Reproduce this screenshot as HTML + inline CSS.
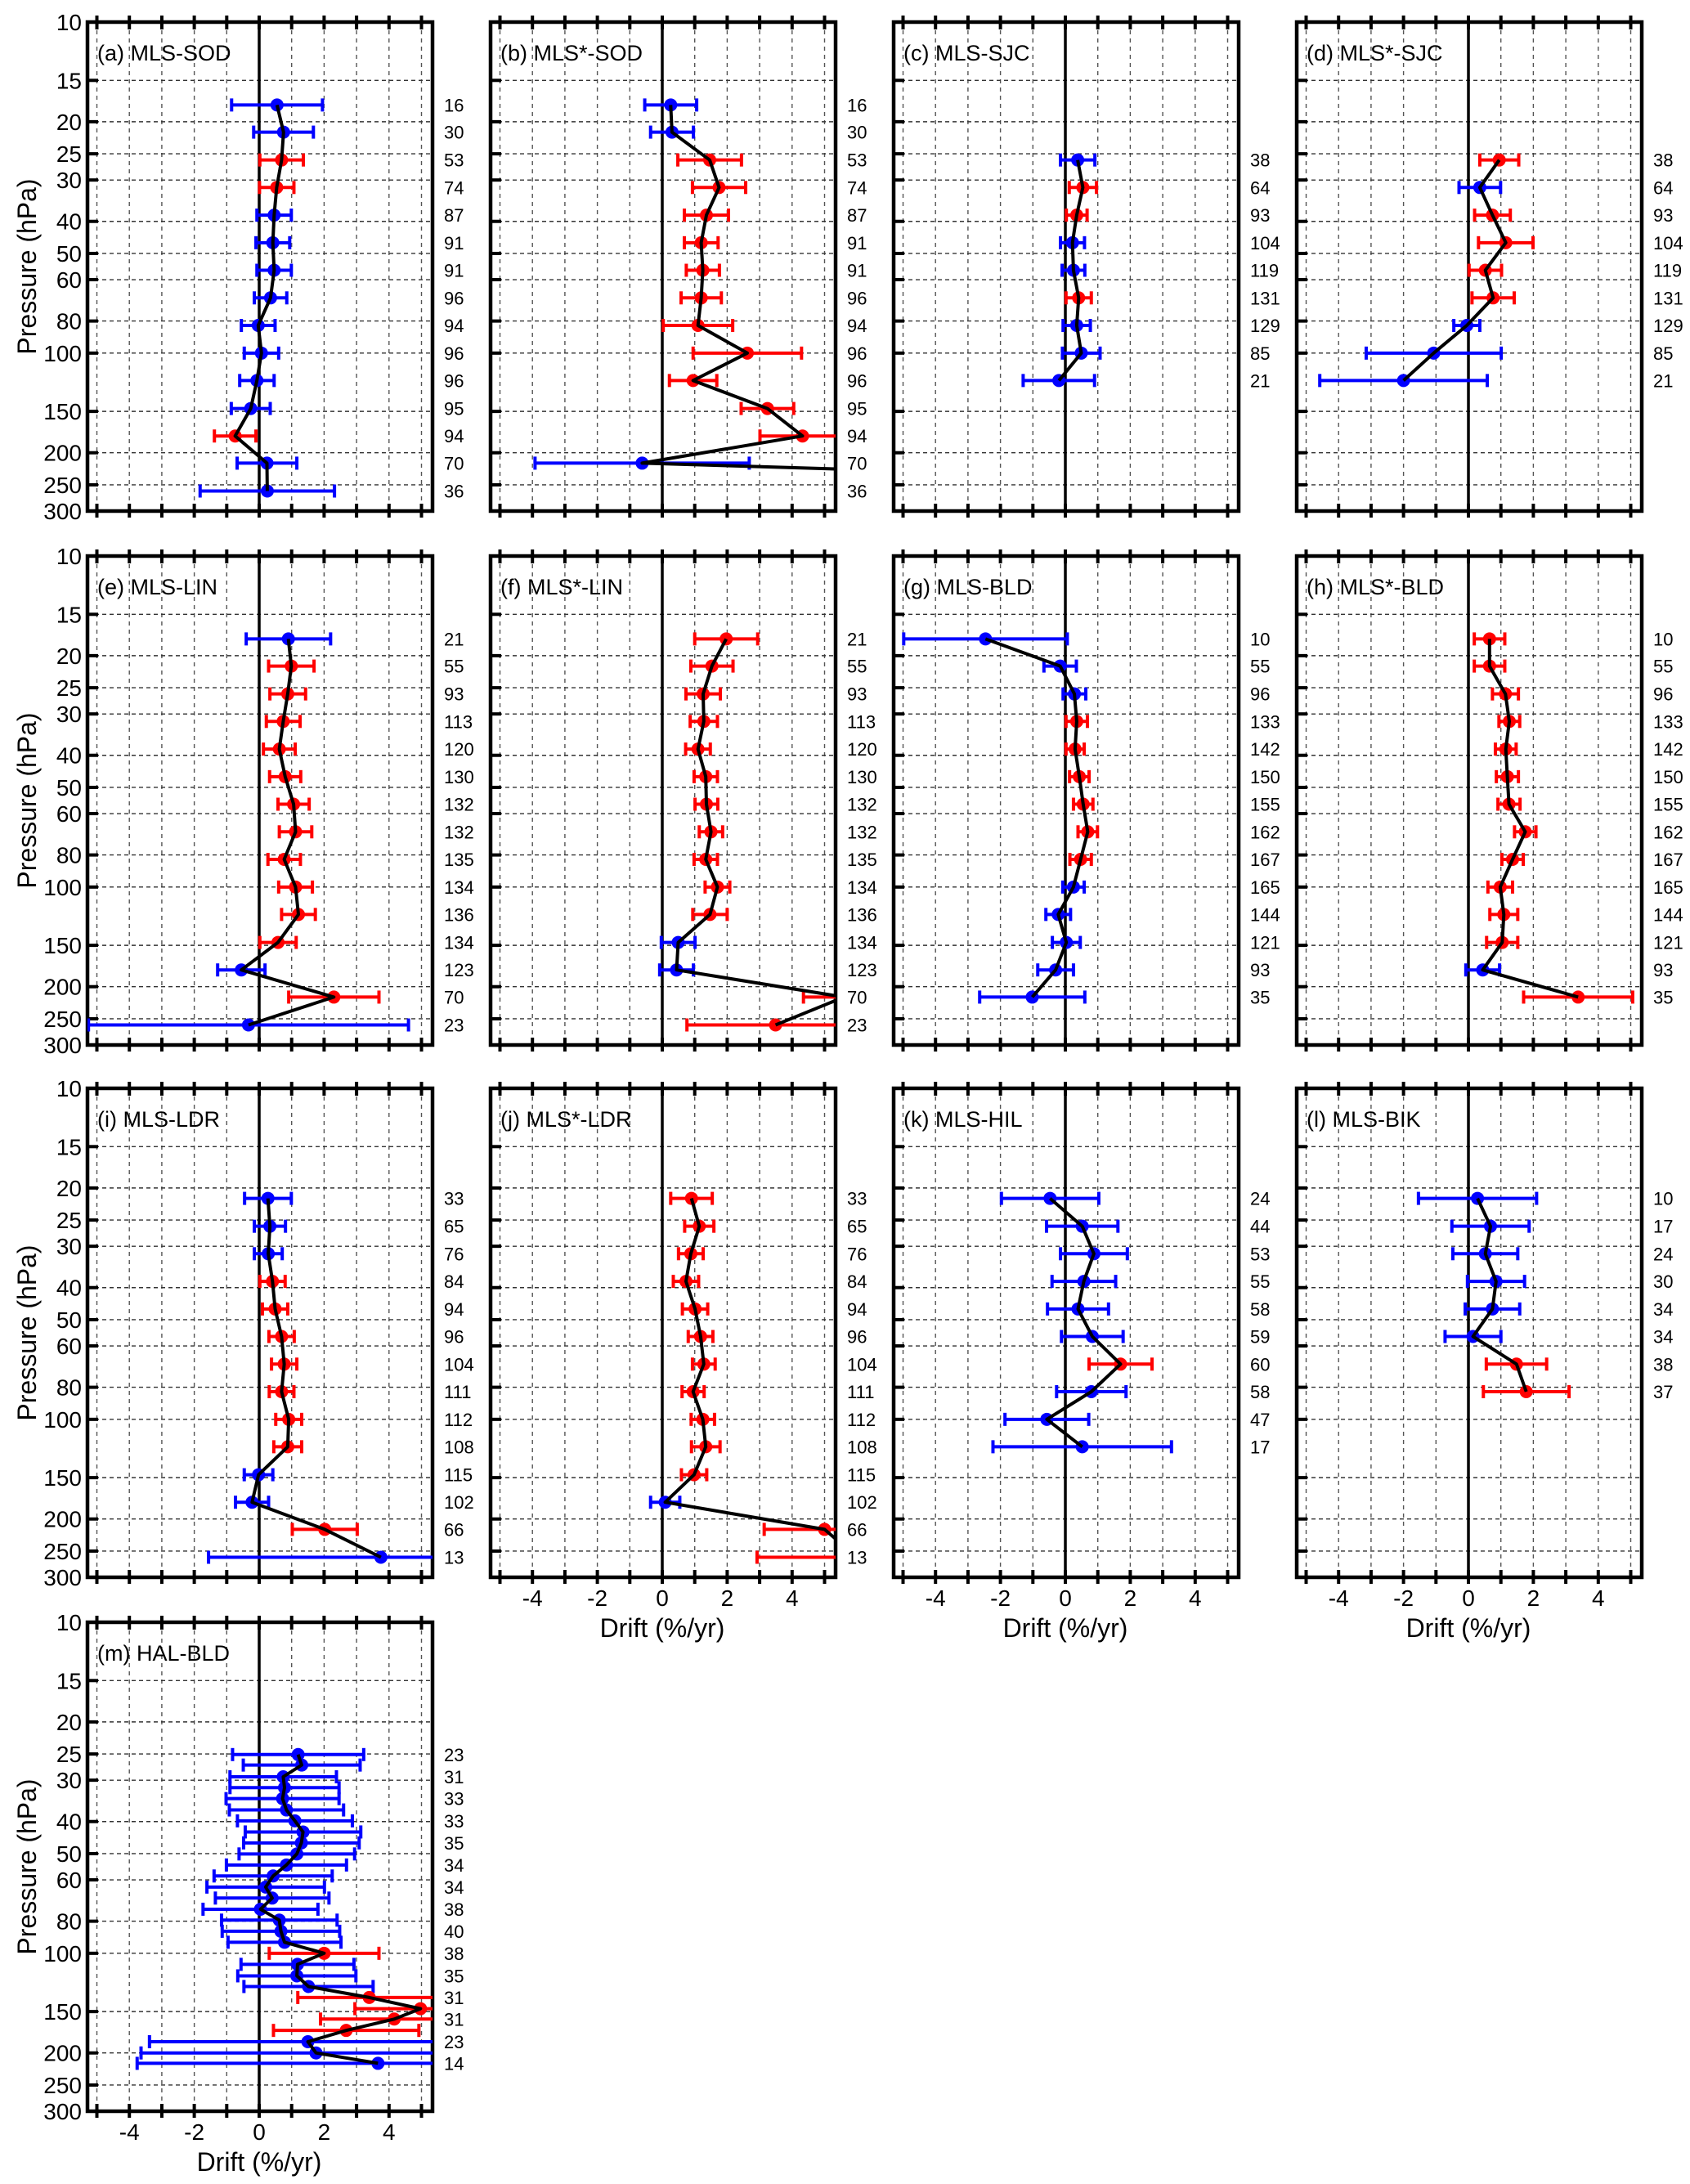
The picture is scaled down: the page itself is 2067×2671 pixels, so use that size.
<!DOCTYPE html>
<html>
<head>
<meta charset="utf-8">
<style>
  html,body{margin:0;padding:0;background:#fff;}
  svg{display:block;font-family:"Liberation Sans",Arial,sans-serif;}
</style>
</head>
<body>
<svg id="fig" xmlns="http://www.w3.org/2000/svg" width="2067" height="2671" viewBox="0 0 2067 2671">
  <rect x="0" y="0" width="2067" height="2671" fill="#fff"/>
</svg>
<script>
// ---- pressure levels (categories) ----
const mlsLevels = [17.8,21.5,26.1,31.6,38.3,46.4,56.2,68.1,82.5,100,121,147,178,215,261];
const halLevels = [25.1,27.0,29.3,31.6,34.1,36.9,39.8,43.0,46.4,50.1,54.1,58.4,63.1,68.1,73.6,79.4,85.8,92.6,100,108,117,126,136,147,158,171,185,200,215];
const yTickValues = [10,15,20,25,30,40,50,60,80,100,150,200,250,300];
const yTickLabels = ["10","15","20","25","30","40","50","60","80","100","150","200","250","300"];
const xTickValues = [-4,-2,0,2,4];
const xTickLabels = ["-4","-2","0","2","4"];

// ---- panel data ----
const aVals = [0.55,0.75,0.69,0.54,0.46,0.42,0.46,0.35,-0.03,0.07,-0.07,-0.26,-0.74,0.24,0.25];
const aErrs = [1.4,0.92,0.67,0.53,0.53,0.52,0.53,0.5,0.52,0.53,0.53,0.6,0.64,0.92,2.07];
const aCounts = [16,30,53,74,87,91,91,96,94,96,96,95,94,70,36];

const bVals = [0.26,0.3,1.46,1.75,1.36,1.2,1.25,1.2,1.1,2.62,0.95,3.24,4.32,-0.62,28];
const bErrs = [0.8,0.66,0.98,0.82,0.68,0.52,0.51,0.62,1.07,1.67,0.73,0.81,1.31,3.3,5];
const bCounts = [16,30,53,74,87,91,91,96,94,96,96,95,94,70,36];

const cVals = [0.38,0.54,0.35,0.22,0.25,0.41,0.35,0.49,-0.2];
const cErrs = [0.53,0.42,0.32,0.37,0.35,0.39,0.42,0.58,1.1];
const cCounts = [38,64,93,104,119,131,129,85,21];

const dVals = [0.95,0.35,0.74,1.15,0.52,0.76,-0.05,-1.07,-2.0];
const dErrs = [0.6,0.64,0.55,0.84,0.5,0.65,0.4,2.08,2.58];
const dCounts = [38,64,93,104,119,131,129,85,21];

const eVals = [0.9,0.99,0.88,0.74,0.62,0.8,1.06,1.12,0.77,1.12,1.21,0.58,-0.55,2.3,-0.33];
const eErrs = [1.3,0.7,0.55,0.52,0.49,0.48,0.48,0.5,0.5,0.52,0.52,0.56,0.73,1.39,4.93];
const eCounts = [21,55,93,113,120,130,132,132,135,134,136,134,123,70,23];

const fVals = [1.97,1.53,1.26,1.28,1.1,1.34,1.36,1.5,1.34,1.7,1.47,0.49,0.44,5.6,3.49];
const fErrs = [0.97,0.65,0.53,0.42,0.38,0.36,0.35,0.36,0.36,0.38,0.53,0.52,0.52,1.25,2.73];
const fCounts = [21,55,93,113,120,130,132,132,135,134,136,134,123,70,23];

const gVals = [-2.46,-0.16,0.28,0.35,0.3,0.43,0.55,0.69,0.47,0.25,-0.22,0.03,-0.3,-1.02];
const gErrs = [2.52,0.5,0.35,0.33,0.28,0.3,0.3,0.3,0.33,0.33,0.38,0.43,0.55,1.62];
const gCounts = [10,55,96,133,142,150,155,162,167,165,144,121,93,35];

const hVals = [0.65,0.65,1.14,1.26,1.15,1.2,1.25,1.75,1.36,0.98,1.09,1.04,0.44,3.38];
const hErrs = [0.47,0.47,0.4,0.32,0.32,0.34,0.34,0.33,0.33,0.38,0.43,0.48,0.52,1.68];
const hCounts = [10,55,96,133,142,150,155,162,167,165,144,121,93,35];

const iVals = [0.27,0.33,0.28,0.41,0.49,0.69,0.77,0.69,0.91,0.88,-0.02,-0.22,2.02,3.75];
const iErrs = [0.72,0.48,0.43,0.39,0.39,0.39,0.39,0.38,0.4,0.43,0.44,0.51,1.0,5.31];
const iCounts = [33,65,76,84,94,96,104,111,112,108,115,102,66,13];

const jVals = [0.9,1.14,0.88,0.73,1.01,1.18,1.28,0.95,1.25,1.34,0.98,0.09,5.0,6.0];
const jErrs = [0.64,0.45,0.38,0.39,0.39,0.38,0.35,0.34,0.36,0.44,0.39,0.45,1.86,3.08];
const jCounts = [33,65,76,84,94,96,104,111,112,108,115,102,66,13];

const kVals = [-0.47,0.52,0.88,0.57,0.39,0.83,1.7,0.8,-0.57,0.52];
const kErrs = [1.5,1.1,1.03,0.98,0.94,0.95,0.97,1.07,1.29,2.75];
const kCounts = [24,44,53,55,58,59,60,58,47,17];

const lVals = [0.28,0.68,0.52,0.85,0.74,0.14,1.48,1.78];
const lErrs = [1.82,1.19,1.0,0.88,0.84,0.86,0.93,1.32];
const lCounts = [10,17,24,30,34,34,38,37];

const mVals = [1.2,1.31,0.74,0.78,0.72,0.84,1.1,1.35,1.3,1.16,0.84,0.43,0.2,0.4,0.04,0.62,0.67,0.78,2.0,1.18,1.16,1.52,3.39,4.97,4.16,2.68,1.5,1.75,3.66];
const mErrs = [2.02,1.8,1.64,1.68,1.74,1.76,1.77,1.78,1.78,1.78,1.85,1.82,1.81,1.75,1.77,1.78,1.81,1.74,1.69,1.74,1.82,1.99,2.2,2.02,2.27,2.24,4.88,5.39,7.42];
const mCounts = [23,31,33,33,35,34,34,38,40,38,35,31,31,23,14];

const panelTitles = ["(a) MLS-SOD","(b) MLS*-SOD","(c) MLS-SJC","(d) MLS*-SJC","(e) MLS-LIN","(f) MLS*-LIN","(g) MLS-BLD","(h) MLS*-BLD","(i) MLS-LDR","(j) MLS*-LDR","(k) MLS-HIL","(l) MLS-BIK","(m) HAL-BLD"];

// ---- layout ----
const COLS=[107,600,1093,1586], ROWS=[27,680,1331,1984], PW=422, PH=598;
const XMIN=-5.29, XMAX=5.34, PTOP=10, PBOT=300;
const NS="http://www.w3.org/2000/svg";
const svg=document.getElementById('fig');

const panels=[
 {key:'a',col:0,row:0,levels:mlsLevels,start:0,vals:aVals,errs:aErrs,counts:aCounts,step:1,xl:false},
 {key:'b',col:1,row:0,levels:mlsLevels,start:0,vals:bVals,errs:bErrs,counts:bCounts,step:1,xl:false},
 {key:'c',col:2,row:0,levels:mlsLevels,start:2,vals:cVals,errs:cErrs,counts:cCounts,step:1,xl:false},
 {key:'d',col:3,row:0,levels:mlsLevels,start:2,vals:dVals,errs:dErrs,counts:dCounts,step:1,xl:false},
 {key:'e',col:0,row:1,levels:mlsLevels,start:0,vals:eVals,errs:eErrs,counts:eCounts,step:1,xl:false},
 {key:'f',col:1,row:1,levels:mlsLevels,start:0,vals:fVals,errs:fErrs,counts:fCounts,step:1,xl:false},
 {key:'g',col:2,row:1,levels:mlsLevels,start:0,vals:gVals,errs:gErrs,counts:gCounts,step:1,xl:false},
 {key:'h',col:3,row:1,levels:mlsLevels,start:0,vals:hVals,errs:hErrs,counts:hCounts,step:1,xl:false},
 {key:'i',col:0,row:2,levels:mlsLevels,start:1,vals:iVals,errs:iErrs,counts:iCounts,step:1,xl:false},
 {key:'j',col:1,row:2,levels:mlsLevels,start:1,vals:jVals,errs:jErrs,counts:jCounts,step:1,xl:true},
 {key:'k',col:2,row:2,levels:mlsLevels,start:1,vals:kVals,errs:kErrs,counts:kCounts,step:1,xl:true},
 {key:'l',col:3,row:2,levels:mlsLevels,start:1,vals:lVals,errs:lErrs,counts:lCounts,step:1,xl:true},
 {key:'m',col:0,row:3,levels:halLevels,start:0,vals:mVals,errs:mErrs,counts:mCounts,step:2,xl:true}
];

function el(tag,parent){const e=document.createElementNS(NS,tag);parent.appendChild(e);return e;}
function set(e,o){for(const k in o)e.setAttribute(k,o[k]);return e;}

panels.forEach((p,pi)=>{
  const X0=COLS[p.col], Y0=ROWS[p.row];
  const xs=v=>X0+(v-XMIN)/(XMAX-XMIN)*PW;
  const ys=pr=>Y0+Math.log10(pr/PTOP)/Math.log10(PBOT/PTOP)*PH;

  const g=el('g',svg);
  
  

  const cp=el('clipPath',g); set(cp,{id:'clip-'+p.key});
  const cr=el('rect',cp); set(cr,{x:X0,y:Y0,width:PW,height:PH});

  const grid=el('g',g);
  
  
  for(let v=-5;v<=5;v++){
    const l=el('line',grid);
    set(l,{x1:xs(v),x2:xs(v),y1:Y0,y2:Y0+PH,stroke:'#555','stroke-width':1.4,'stroke-dasharray':'5,5'});
  }
  yTickValues.forEach(t=>{
    if(t===PTOP||t===PBOT) return;
    const l=el('line',grid);
    set(l,{x1:X0,x2:X0+PW,y1:ys(t),y2:ys(t),stroke:'#333','stroke-width':1.4,'stroke-dasharray':'5,4'});
  });

  const z=el('line',g);
  
  
  set(z,{x1:xs(0),x2:xs(0),y1:Y0,y2:Y0+PH,stroke:'#000','stroke-width':3.5});

  const tk=el('g',g);
  
  
  for(let v=-5;v<=5;v++){
    const a=el('line',tk); set(a,{x1:xs(v),x2:xs(v),y1:Y0+PH-9,y2:Y0+PH+8,stroke:'#000','stroke-width':4});
    const b=el('line',tk); set(b,{x1:xs(v),x2:xs(v),y1:Y0-8,y2:Y0+9,stroke:'#000','stroke-width':4});
  }
  yTickValues.forEach(t=>{
    const a=el('line',tk); set(a,{x1:X0,x2:X0+13,y1:ys(t),y2:ys(t),stroke:'#000','stroke-width':4});
  });

  const fr=el('rect',g);
  
  
  set(fr,{x:X0,y:Y0,width:PW,height:PH,fill:'none',stroke:'#000','stroke-width':4.5});

  const tt=el('text',g);
  
  
  set(tt,{x:X0+12,y:Y0+47,'font-size':27,fill:'#000'});
  tt.textContent=panelTitles[pi];

  const dg=el('g',g);
  
  
  set(dg,{'clip-path':'url(#clip-'+p.key+')'});
  const pts=[];
  p.vals.forEach((v,i)=>{
    const pr=p.levels[p.start+i];
    const y=ys(pr), e=p.errs[i];
    const col=Math.abs(v)>e?'#ff0000':'#0000ff';
    const eb=el('g',dg);
    
    
    const l=el('line',eb); set(l,{x1:xs(v-e),x2:xs(v+e),y1:y,y2:y,stroke:col,'stroke-width':4});
    const c1=el('line',eb); set(c1,{x1:xs(v-e),x2:xs(v-e),y1:y-8,y2:y+8,stroke:col,'stroke-width':4});
    const c2=el('line',eb); set(c2,{x1:xs(v+e),x2:xs(v+e),y1:y-8,y2:y+8,stroke:col,'stroke-width':4});
    if(v>=XMIN-0.1 && v<=XMAX+0.1){
      const m=el('circle',dg);
      
      
      set(m,{cx:xs(v),cy:y,r:8,fill:col});
    }
    pts.push(xs(v).toFixed(1)+','+y.toFixed(1));
  });
  const pl=el('polyline',dg);
  
  
  set(pl,{points:pts.join(' '),fill:'none',stroke:'#000','stroke-width':4,'stroke-linejoin':'round'});

  p.counts.forEach((n,k)=>{
    const i=k*p.step;
    const pr=p.levels[p.start+i];
    const t=el('text',g);
    
    
    set(t,{x:X0+PW+14,y:ys(pr)+8,'font-size':22,fill:'#000'});
    t.textContent=n;
  });

  if(p.col===0){
    yTickValues.forEach((t,ti)=>{
      const tx=el('text',g);
      
      
      set(tx,{x:X0-7,y:ys(t)+10,'font-size':28,'text-anchor':'end',fill:'#000'});
      tx.textContent=yTickLabels[ti];
    });
    const yt=el('text',g);
    
    
    const cy=Y0+PH/2;
    set(yt,{x:33,y:cy,'font-size':32,'text-anchor':'middle',fill:'#000',transform:'rotate(-90 33 '+cy+') translate(0 11)'});
    yt.textContent='Pressure (hPa)';
  }
  if(p.xl){
    xTickValues.forEach((v,ti)=>{
      const tx=el('text',g);
      
      
      set(tx,{x:xs(v),y:Y0+PH+35,'font-size':28,'text-anchor':'middle',fill:'#000'});
      tx.textContent=xTickLabels[ti];
    });
    const xt=el('text',g);
    
    
    set(xt,{x:xs(0),y:Y0+PH+73,'font-size':32,'text-anchor':'middle',fill:'#000'});
    xt.textContent='Drift (%/yr)';
  }
});
</script>
</body>
</html>
